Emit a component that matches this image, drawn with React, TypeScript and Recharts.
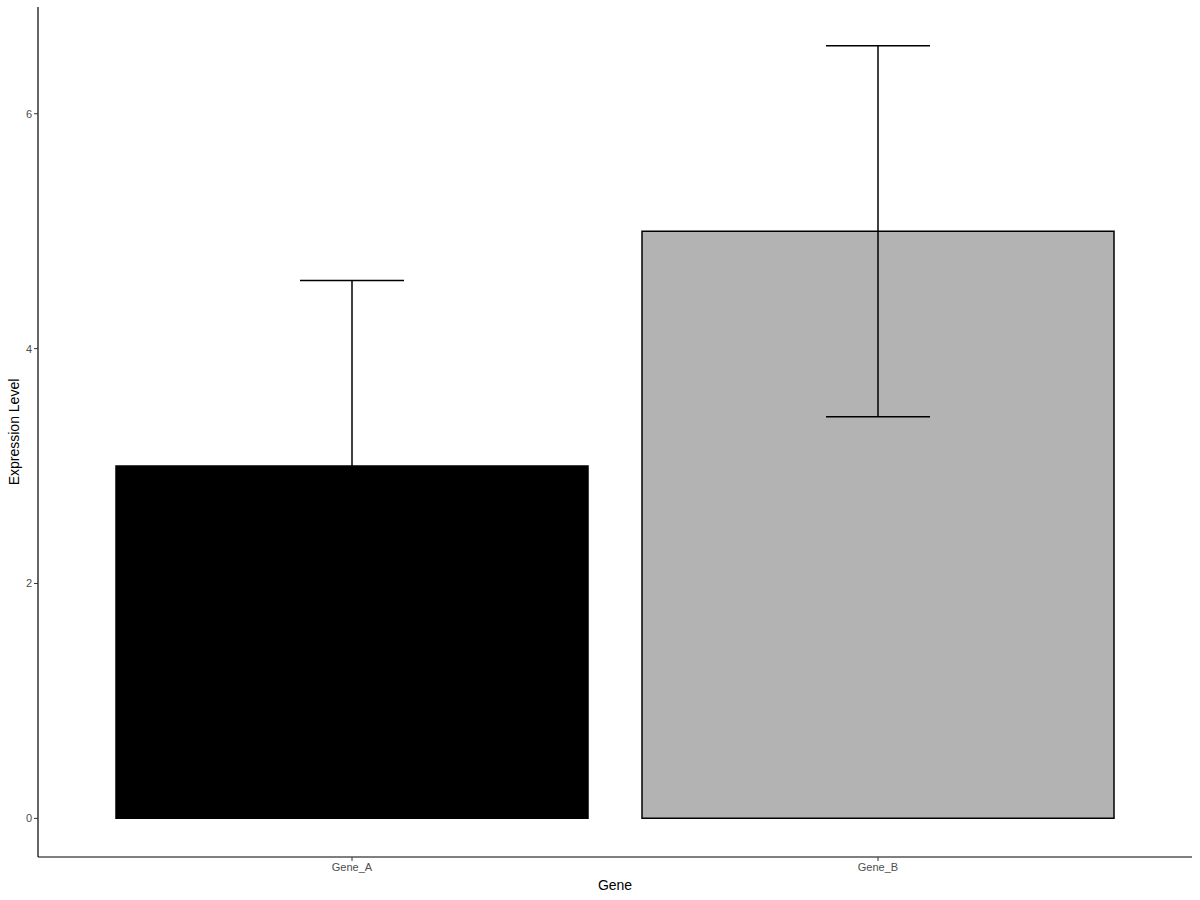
import { BarChart, Bar, XAxis, YAxis, ErrorBar, Cell } from 'recharts';

const genes = ['Gene_A', 'Gene_B'];
const expression = [3, 5];
const sdValues = [1.58, 1.58];
const barColors = ['#000000', '#b3b3b3'];
const yTicks = [0, 2, 4, 6];

const data = genes.map((gene, i) => ({
  gene,
  value: expression[i],
  sd: sdValues[i],
}));

const tickStyle = { fontSize: 11, fill: '#4d4d4d', fontFamily: 'Liberation Sans, Arial, sans-serif' };

export default function App() {
  return (
    <div style={{ position: 'absolute', left: 0, top: 0, width: 1200, height: 900, background: '#fff' }}>
      <BarChart
        width={1200}
        height={900}
        data={data}
        margin={{ top: 7, right: 8, bottom: 0, left: 0 }}
        style={{ fontFamily: 'Liberation Sans, Arial, sans-serif' }}
      >
        <XAxis
          dataKey="gene"
          height={43}
          padding={{ left: 51, right: 51 }}
          tick={tickStyle}
          tickSize={4}
          tickLine={{ stroke: '#333333' }}
          axisLine={{ stroke: '#000000', strokeWidth: 1.2 }}
          label={{ value: 'Gene', position: 'insideBottom', offset: 10, fontSize: 14, fill: '#000' }}
        />
        <YAxis
          width={38}
          type="number"
          domain={[-0.329, 6.909]}
          allowDataOverflow
          ticks={yTicks}
          tick={tickStyle}
          tickSize={4}
          tickLine={{ stroke: '#333333' }}
          axisLine={{ stroke: '#000000', strokeWidth: 1.2 }}
          label={{
            value: 'Expression Level',
            angle: -90,
            position: 'insideLeft',
            offset: 14,
            textAnchor: 'middle',
            fontSize: 14,
            fill: '#000',
          }}
        />
        <Bar dataKey="value" barSize={472} stroke="#000000" strokeWidth={1.5} isAnimationActive={false}>
          {data.map((d, i) => (
            <Cell key={d.gene} fill={barColors[i]} />
          ))}
          <ErrorBar dataKey="sd" width={52} stroke="#000000" strokeWidth={1.5} direction="y" />
        </Bar>
      </BarChart>
    </div>
  );
}
